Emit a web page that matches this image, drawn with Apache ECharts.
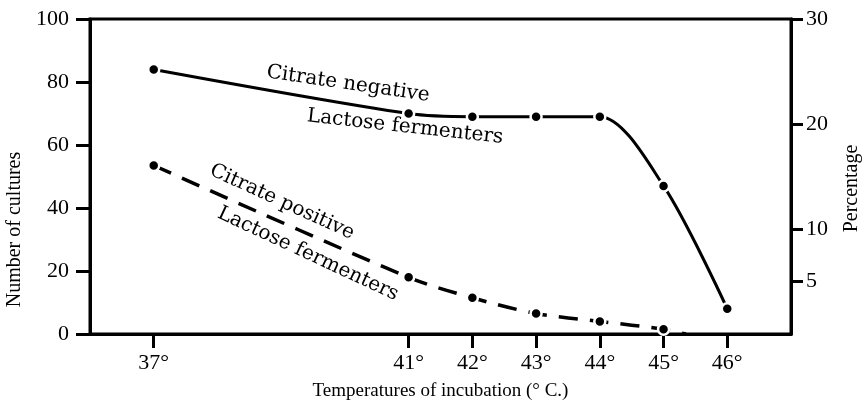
<!DOCTYPE html>
<html>
<head>
<meta charset="utf-8">
<script src="https://cdn.jsdelivr.net/npm/echarts@6/dist/echarts.min.js"></script>
<style>
html,body{margin:0;padding:0;background:#fff;}
#chart{width:863px;height:407px;}
</style>
</head>
<body>
<div id="chart"></div>
<script>
// Data
const temperatures = [37, 41, 42, 43, 44, 45, 46];
const citrateNegative = [84, 70, 69, 69, 69, 47, 8];
const citratePositive = [53.5, 18, 11.5, 6.5, 4, 1.5];
const citratePositiveEnd = [45.35, 0]; // where the dashed curve meets the x axis
const xTickValues = [37, 41, 42, 43, 44, 45, 46];
const leftTickValues = [0, 20, 40, 60, 80, 100];
const rightTickValues = [5, 10, 20, 30];

const serif = '"Liberation Serif", "DejaVu Serif", serif';
const labelSerif = '"DejaVu Serif", "Liberation Serif", serif';

const negData = temperatures.map((t, i) => [t, citrateNegative[i]]);
const posData = temperatures.slice(0, citratePositive.length).map((t, i) => [t, citratePositive[i]]);
posData.push({ value: citratePositiveEnd, symbol: 'none' });

const chart = echarts.init(document.getElementById('chart'), null, { renderer: 'canvas' });

const axisCommon = {
  axisLine: { show: true, lineStyle: { color: '#000', width: 3 } },
  axisTick: { show: true, inside: false, length: 14, lineStyle: { color: '#000', width: 3 } },
  splitLine: { show: false },
  axisLabel: { color: '#000', fontFamily: serif, fontSize: 22 }
};

const pointStyle = { color: '#000', borderColor: '#fff', borderWidth: 2.5 };

chart.setOption({
  animation: false,
  backgroundColor: '#fff',
  grid: { left: 90, right: 72, top: 19, bottom: 73, show: true, borderColor: '#000', borderWidth: 3,
          containLabel: false, outerBoundsMode: 'none' },
  xAxis: {
    type: 'value', min: 36, max: 47,
    ...axisCommon,
    axisTick: { ...axisCommon.axisTick, customValues: xTickValues },
    axisLabel: { ...axisCommon.axisLabel, customValues: xTickValues, formatter: v => v + '°', margin: 18 },
    name: 'Temperatures of incubation (° C.)',
    nameLocation: 'middle', nameGap: 48,
    nameTextStyle: { color: '#000', fontFamily: serif, fontSize: 19 }
  },
  yAxis: [
    {
      type: 'value', min: 0, max: 100, position: 'left',
      ...axisCommon,
      axisTick: { ...axisCommon.axisTick, customValues: leftTickValues },
      axisLabel: { ...axisCommon.axisLabel, customValues: leftTickValues, margin: 21 },
      name: 'Number of cultures', nameLocation: 'middle', nameRotate: 90, nameGap: 60,
      nameTextStyle: { color: '#000', fontFamily: serif, fontSize: 20, padding: [0, 106, 0, 0] }
    },
    {
      type: 'value', min: 0, max: 30, position: 'right',
      ...axisCommon,
      axisTick: { ...axisCommon.axisTick, length: 12, customValues: rightTickValues },
      axisLabel: { ...axisCommon.axisLabel, customValues: rightTickValues, margin: 15 },
      name: 'Percentage', nameLocation: 'middle', nameRotate: 90, nameGap: 51,
      nameTextStyle: { color: '#000', fontFamily: serif, fontSize: 20, padding: [0, 24, 0, 0] }
    }
  ],
  series: [
    {
      name: 'Citrate negative lactose fermenters', type: 'line', yAxisIndex: 0,
      data: negData, smooth: 0.3,
      symbol: 'circle', symbolSize: 11, itemStyle: pointStyle,
      lineStyle: { color: '#000', width: 3 }
    },
    {
      name: 'Citrate positive lactose fermenters', type: 'line', yAxisIndex: 0,
      data: posData, smooth: 0.3,
      symbol: 'circle', symbolSize: 11, itemStyle: pointStyle,
      lineStyle: { color: '#000', width: 3.5, type: [19, 12] }
    }
  ],
  graphic: [
    { type: 'text', x: 348, y: 84, rotation: -8.3 * Math.PI / 180,
      style: { text: 'Citrate negative', fill: '#000', font: '20px ' + labelSerif, align: 'center', verticalAlign: 'middle' } },
    { type: 'text', x: 405, y: 127, rotation: -6.3 * Math.PI / 180,
      style: { text: 'Lactose fermenters', fill: '#000', font: '20px ' + labelSerif, align: 'center', verticalAlign: 'middle' } },
    { type: 'text', x: 282, y: 202, rotation: -24.5 * Math.PI / 180,
      style: { text: 'Citrate positive', fill: '#000', font: '20px ' + labelSerif, align: 'center', verticalAlign: 'middle' } },
    { type: 'text', x: 308, y: 254, rotation: -25 * Math.PI / 180,
      style: { text: 'Lactose fermenters', fill: '#000', font: '20px ' + labelSerif, align: 'center', verticalAlign: 'middle' } }
  ]
});
</script>
</body>
</html>
